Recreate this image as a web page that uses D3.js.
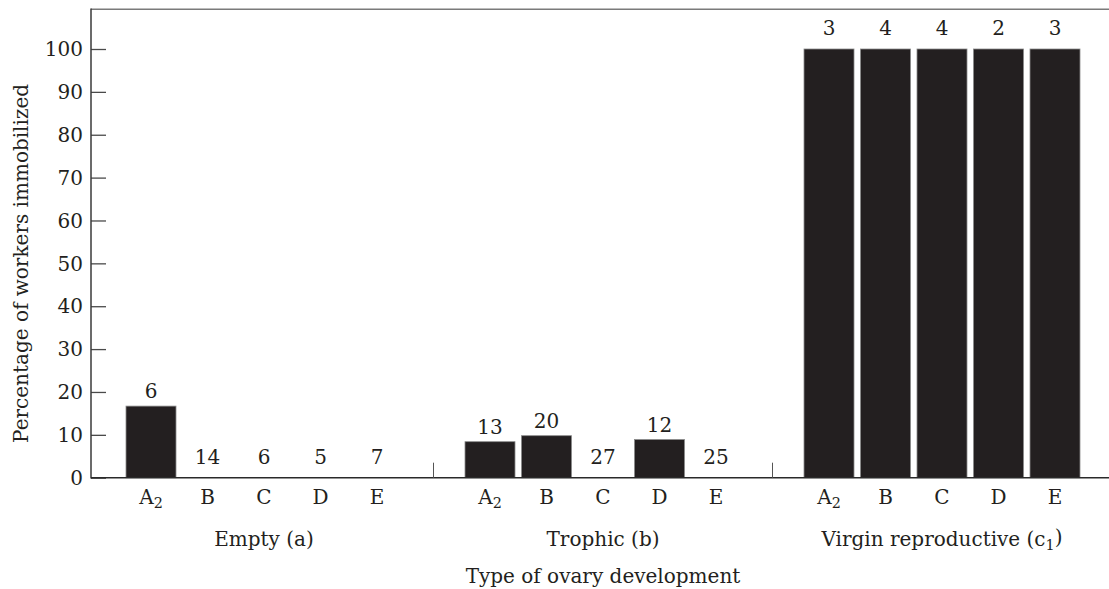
<!DOCTYPE html>
<html>
<head>
<meta charset="utf-8">
<script src="https://cdn.jsdelivr.net/npm/d3@7"></script>
<style>
  html, body { margin: 0; padding: 0; background: #fff; }
  svg { display: block; }
  text { font-family: "DejaVu Serif", "Liberation Serif", serif; fill: #231f20; }
</style>
</head>
<body>
<svg id="chart" width="1109" height="589"></svg>
<script>
// ---- data ----
const groups = ["Empty (a)", "Trophic (b)", "Virgin reproductive (c1)"];
const categories = ["A2", "B", "C", "D", "E"];
const emptyValues = [16.7, 0, 0, 0, 0];
const emptyN = [6, 14, 6, 5, 7];
const trophicValues = [8.4, 9.8, 0, 8.9, 0];
const trophicN = [13, 20, 27, 12, 25];
const virginValues = [100, 100, 100, 100, 100];
const virginN = [3, 4, 4, 2, 3];
const yTicks = [0, 10, 20, 30, 40, 50, 60, 70, 80, 90, 100];
const yMax = 109.3;
const yTitle = "Percentage of workers immobilized";
const xTitle = "Type of ovary development";

const seriesValues = [emptyValues, trophicValues, virginValues];
const seriesN = [emptyN, trophicN, virginN];

// build slot list: 5 bars per group, with a separator slot between groups
const slots = [];
const bars = [];
groups.forEach((g, gi) => {
  categories.forEach((c, ci) => {
    const id = g + "|" + c;
    slots.push(id);
    bars.push({group: g, gi, cat: c, id, value: seriesValues[gi][ci], n: seriesN[gi][ci]});
  });
  if (gi < groups.length - 1) slots.push("sep" + gi);
});

const svg = d3.select("#chart");
const fontSize = 20;
const ink = "#231f20";

const x = d3.scaleBand().domain(slots).range([122.75, 1083.25])
  .paddingInner(0.115).paddingOuter(0.0575);
const y = d3.scaleLinear().domain([0, 100]).range([477.7, 49]);

const axisX = 91;
const plotRight = 1109;

// top frame line
svg.append("line").attr("x1", axisX).attr("x2", plotRight)
  .attr("y1", y(yMax)).attr("y2", y(yMax))
  .attr("stroke", "#7a7a7a").attr("stroke-width", 1.5);

// bars
svg.append("g").selectAll("rect").data(bars.filter(d => d.value > 0)).join("rect")
  .attr("x", d => x(d.id))
  .attr("width", x.bandwidth())
  .attr("y", d => y(d.value))
  .attr("height", d => y(0) - y(d.value))
  .attr("fill", ink)
  .attr("stroke", "#8a8a8a").attr("stroke-width", 0.8);

// y axis with inward ticks
const yAxis = d3.axisRight(y).tickValues(yTicks).tickSize(15).tickFormat("");
const gy = svg.append("g").attr("transform", `translate(${axisX},0)`).call(yAxis);
gy.select(".domain").remove();
gy.selectAll(".tick line").attr("stroke", "#4a4a4a").attr("stroke-width", 1.3);
svg.append("line").attr("x1", axisX).attr("x2", axisX)
  .attr("y1", y(yMax) - 0.75).attr("y2", y(0) + 0.75)
  .attr("stroke", "#3a3a3a").attr("stroke-width", 1.5);
svg.append("g").selectAll("text").data(yTicks).join("text")
  .attr("x", axisX - 8).attr("y", d => y(d)).attr("dy", "0.36em")
  .attr("text-anchor", "end").attr("font-size", fontSize)
  .text(d => d);

// baseline
svg.append("line").attr("x1", axisX).attr("x2", plotRight)
  .attr("y1", y(0)).attr("y2", y(0))
  .attr("stroke", "#2a2a2a").attr("stroke-width", 1.5);

// separator ticks between groups
svg.append("g").selectAll("line").data(slots.filter(s => s.startsWith("sep"))).join("line")
  .attr("x1", d => x(d) + x.bandwidth() / 2).attr("x2", d => x(d) + x.bandwidth() / 2)
  .attr("y1", y(0)).attr("y2", y(0) - 15)
  .attr("stroke", "#555").attr("stroke-width", 1);

// helper for subscripted text
function subText(sel, str) {
  const m = str.match(/^(.*?)([A-Za-z])(\d)(\)?)$/);
  if (m) {
    sel.append("tspan").text(m[1] + m[2]);
    sel.append("tspan").attr("font-size", fontSize * 0.72).attr("dy", "0.3em").text(m[3]);
    if (m[4]) sel.append("tspan").attr("dy", "-0.3em").text(m[4]);
  } else {
    sel.text(str);
  }
}

// category labels
svg.append("g").selectAll("text").data(bars).join("text")
  .attr("x", d => x(d.id) + x.bandwidth() / 2)
  .attr("y", 504)
  .attr("text-anchor", "middle").attr("font-size", fontSize)
  .each(function(d) { subText(d3.select(this), d.cat); });

// n labels above bars
svg.append("g").selectAll("text").data(bars).join("text")
  .attr("x", d => x(d.id) + x.bandwidth() / 2)
  .attr("y", d => y(d.value) - (d.value === 0 || d.value >= 100 ? 14 : 8))
  .attr("text-anchor", "middle").attr("font-size", fontSize)
  .text(d => d.n);

// group labels
svg.append("g").selectAll("text").data(groups).join("text")
  .attr("x", (g) => x(g + "|C") + x.bandwidth() / 2)
  .attr("y", 545.5)
  .attr("text-anchor", "middle").attr("font-size", fontSize)
  .each(function(g) { subText(d3.select(this), g); });

// x title
svg.append("text")
  .attr("x", x(groups[1] + "|C") + x.bandwidth() / 2)
  .attr("y", 583)
  .attr("text-anchor", "middle").attr("font-size", fontSize)
  .text(xTitle);

// y title
svg.append("text")
  .attr("transform", `translate(28,${(y(yMax) + y(0)) / 2 + 20}) rotate(-90)`)
  .attr("text-anchor", "middle").attr("font-size", fontSize)
  .text(yTitle);
</script>
</body>
</html>
